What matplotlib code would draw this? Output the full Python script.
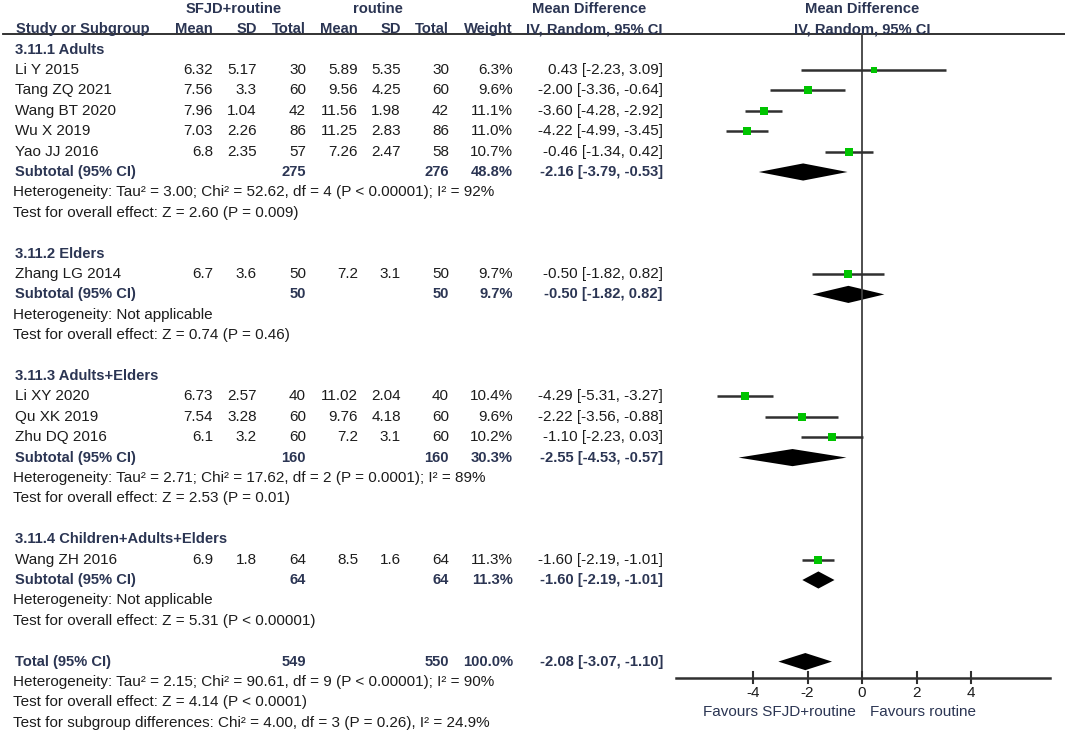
import matplotlib.pyplot as plt
import numpy as np

###############################################################################
# Data
###############################################################################
group_names = ['3.11.1 Adults', '3.11.2 Elders', '3.11.3 Adults+Elders',
               '3.11.4 Children+Adults+Elders']

study_names = [['Li Y 2015', 'Tang ZQ 2021', 'Wang BT 2020', 'Wu X 2019', 'Yao JJ 2016'],
               ['Zhang LG 2014'],
               ['Li XY 2020', 'Qu XK 2019', 'Zhu DQ 2016'],
               ['Wang ZH 2016']]
exp_mean = [[6.32, 7.56, 7.96, 7.03, 6.8], [6.7], [6.73, 7.54, 6.1], [6.9]]
exp_sd = [[5.17, 3.3, 1.04, 2.26, 2.35], [3.6], [2.57, 3.28, 3.2], [1.8]]
exp_n = [[30, 60, 42, 86, 57], [50], [40, 60, 60], [64]]
ctl_mean = [[5.89, 9.56, 11.56, 11.25, 7.26], [7.2], [11.02, 9.76, 7.2], [8.5]]
ctl_sd = [[5.35, 4.25, 1.98, 2.83, 2.47], [3.1], [2.04, 4.18, 3.1], [1.6]]
ctl_n = [[30, 60, 42, 86, 58], [50], [40, 60, 60], [64]]
weight = [[6.3, 9.6, 11.1, 11.0, 10.7], [9.7], [10.4, 9.6, 10.2], [11.3]]
md = [[0.43, -2.00, -3.60, -4.22, -0.46], [-0.50], [-4.29, -2.22, -1.10], [-1.60]]
md_lo = [[-2.23, -3.36, -4.28, -4.99, -1.34], [-1.82], [-5.31, -3.56, -2.23], [-2.19]]
md_hi = [[3.09, -0.64, -2.92, -3.45, 0.42], [0.82], [-3.27, -0.88, 0.03], [-1.01]]

sub_exp_n = [275, 50, 160, 64]
sub_ctl_n = [276, 50, 160, 64]
sub_weight = [48.8, 9.7, 30.3, 11.3]
sub_md = [-2.16, -0.50, -2.55, -1.60]
sub_lo = [-3.79, -1.82, -4.53, -2.19]
sub_hi = [-0.53, 0.82, -0.57, -1.01]
sub_het = ['Heterogeneity: Tau² = 3.00; Chi² = 52.62, df = 4 (P < 0.00001); I² = 92%',
           'Heterogeneity: Not applicable',
           'Heterogeneity: Tau² = 2.71; Chi² = 17.62, df = 2 (P = 0.0001); I² = 89%',
           'Heterogeneity: Not applicable']
sub_test = ['Test for overall effect: Z = 2.60 (P = 0.009)',
            'Test for overall effect: Z = 0.74 (P = 0.46)',
            'Test for overall effect: Z = 2.53 (P = 0.01)',
            'Test for overall effect: Z = 5.31 (P < 0.00001)']

total_exp_n = 549
total_ctl_n = 550
total_weight = 100.0
total_md, total_lo, total_hi = -2.08, -3.07, -1.10
total_notes = ['Heterogeneity: Tau² = 2.15; Chi² = 90.61, df = 9 (P < 0.00001); I² = 90%',
               'Test for overall effect: Z = 4.14 (P < 0.0001)',
               'Test for subgroup differences: Chi² = 4.00, df = 3 (P = 0.26), I² = 24.9%']

ticks = [-4, -2, 0, 2, 4]
axis_range = (-6.83, 6.9)
exp_label = 'SFJD+routine'
ctl_label = 'routine'

###############################################################################
# Layout
###############################################################################
W, H = 1065, 730
row_h = 20.4
row0_px = 49.6
px_per_unit = 27.25
zero_px = 862

FS = 11.0
FS_B = 10.6
TXT = '#1c1c1c'
BOLD = '#2b3553'
plt.rcParams['font.family'] = ['Liberation Sans', 'DejaVu Sans']

fig = plt.figure(figsize=(W / 100, H / 100), dpi=100)
ax = fig.add_axes([0, 0, 1, 1])
axf = fig.add_axes([0, 0, 1, 1])
ylim = ((H - row0_px) / row_h, (0 - row0_px) / row_h)
ax.set_xlim(0, W)
ax.set_ylim(*ylim)
axf.set_xlim(-zero_px / px_per_unit, (W - zero_px) / px_per_unit)
axf.set_ylim(*ylim)
for a in (ax, axf):
    a.axis('off')
axf.patch.set_alpha(0)

# right edges of numeric columns
col_x = [213, 257, 306, 358, 401, 449, 513, 663]


def put(x, y, s, bold=False, ha='left'):
    ax.text(x, y, s, fontsize=FS_B if bold else FS, ha=ha, va='center',
            color=BOLD if bold else TXT,
            fontweight='bold' if bold else 'normal')


def diamond(y, lo, mid, hi):
    hh = 0.42
    axf.fill([lo, mid, hi, mid], [y, y - hh, y, y + hh], color='black', lw=0)


# headers
put(234, -2, exp_label, bold=True, ha='center')
put(378, -2, ctl_label, bold=True, ha='center')
put(589, -2, 'Mean Difference', bold=True, ha='center')
axf.text(0, -2, 'Mean Difference', fontsize=FS_B, ha='center', va='center',
         color=BOLD, fontweight='bold')
put(16, -1, 'Study or Subgroup', bold=True)
for x, s in zip(col_x, ['Mean', 'SD', 'Total', 'Mean', 'SD', 'Total', 'Weight',
                        'IV, Random, 95% CI']):
    put(x, -1, s, bold=True, ha='right')
axf.text(0, -1, 'IV, Random, 95% CI', fontsize=FS_B, ha='center', va='center',
         color=BOLD, fontweight='bold')
top_y = (34 - row0_px) / row_h
ax.plot([3, W], [top_y, top_y], color='#222222', lw=1.3)

row = 0
for g in range(len(group_names)):
    put(15, row, group_names[g], bold=True)
    row += 1
    for i in range(len(study_names[g])):
        put(15, row, study_names[g][i])
        vals = ['%g' % exp_mean[g][i], '%g' % exp_sd[g][i], '%d' % exp_n[g][i],
                '%g' % ctl_mean[g][i], '%g' % ctl_sd[g][i], '%d' % ctl_n[g][i],
                '%.1f%%' % weight[g][i],
                '%.2f [%.2f, %.2f]' % (md[g][i], md_lo[g][i], md_hi[g][i])]
        for x, s in zip(col_x, vals):
            put(x, row, s, ha='right')
        axf.plot([md_lo[g][i], md_hi[g][i]], [row, row], color='#303030', lw=1.8,
                 solid_capstyle='butt', zorder=2)
        side_px = 2.5 * np.sqrt(weight[g][i])
        axf.plot(md[g][i], row, marker='s', ms=side_px * 0.72, color='#00c400',
                 mec='#00c400', mew=0, zorder=3)
        row += 1
    put(15, row, 'Subtotal (95% CI)', bold=True)
    put(col_x[2], row, '%d' % sub_exp_n[g], bold=True, ha='right')
    put(col_x[5], row, '%d' % sub_ctl_n[g], bold=True, ha='right')
    put(col_x[6], row, '%.1f%%' % sub_weight[g], bold=True, ha='right')
    put(col_x[7], row, '%.2f [%.2f, %.2f]' % (sub_md[g], sub_lo[g], sub_hi[g]),
        bold=True, ha='right')
    diamond(row, sub_lo[g], sub_md[g], sub_hi[g])
    row += 1
    put(13, row, sub_het[g])
    row += 1
    put(13, row, sub_test[g])
    row += 2

put(15, row, 'Total (95% CI)', bold=True)
put(col_x[2], row, '%d' % total_exp_n, bold=True, ha='right')
put(col_x[5], row, '%d' % total_ctl_n, bold=True, ha='right')
put(col_x[6], row, '%.1f%%' % total_weight, bold=True, ha='right')
put(col_x[7], row, '%.2f [%.2f, %.2f]' % (total_md, total_lo, total_hi),
    bold=True, ha='right')
diamond(row, total_lo, total_md, total_hi)
total_row = row
for k, s in enumerate(total_notes):
    put(13, row + 1 + k, s)

# forest axis
axis_y = total_row + 0.78
axf.plot([0, 0], [top_y, axis_y], color='#404040', lw=1.3, zorder=1)
axf.plot(axis_range, [axis_y, axis_y], color='#303030', lw=1.8)
for t in ticks:
    axf.plot([t, t], [axis_y - 0.25, axis_y + 0.25], color='#303030', lw=1.5)
    axf.text(t, axis_y + 0.78, '%d' % t, fontsize=FS, ha='center', va='center',
             color=TXT)
axf.text(-0.22, axis_y + 1.7, 'Favours ' + exp_label, fontsize=FS, ha='right',
         va='center', color=BOLD)
axf.text(0.3, axis_y + 1.7, 'Favours ' + ctl_label, fontsize=FS, ha='left',
         va='center', color=BOLD)

plt.savefig('out.png', dpi=100)
